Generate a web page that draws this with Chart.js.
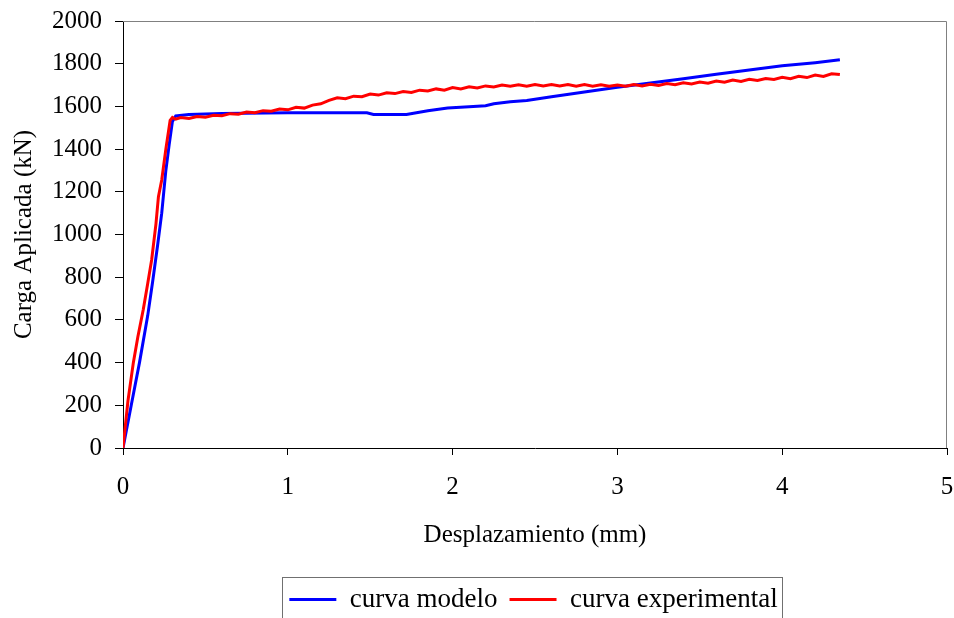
<!DOCTYPE html>
<html>
<head>
<meta charset="utf-8">
<script src="https://cdn.jsdelivr.net/npm/chart.js@4/dist/chart.umd.min.js"></script>
<style>
  body { margin: 0; background: #fff; }
  canvas { display: block; }
</style>
</head>
<body>
<canvas id="grafico" width="954" height="618"></canvas>
<script>
// curva modelo (azul)
const modeloX = [0, 0.05, 0.10, 0.15, 0.18, 0.21, 0.235, 0.26, 0.28, 0.30, 0.32, 0.40, 0.60, 1.00, 1.48, 1.52, 1.72, 1.85, 1.97, 2.10, 2.20, 2.25, 2.35, 2.45, 2.60, 2.80, 3.00, 3.20, 3.40, 3.60, 3.80, 4.00, 4.20, 4.35];
const modeloY = [0, 200, 400, 620, 780, 950, 1100, 1300, 1420, 1530, 1555, 1562, 1567, 1570, 1570, 1562, 1562, 1580, 1592, 1598, 1603, 1612, 1622, 1628, 1645, 1667, 1690, 1710, 1730, 1751, 1771, 1790, 1805, 1818];

// curva experimental (roja)
const experX = [0, 0.03, 0.063, 0.09, 0.123, 0.15, 0.174, 0.20, 0.215, 0.235, 0.26, 0.286, 0.30, 0.32,
  0.35, 0.40, 0.45, 0.50, 0.55, 0.60, 0.65, 0.70, 0.75, 0.80, 0.85, 0.90, 0.95, 1.00, 1.05, 1.10, 1.15, 1.20,
  1.25, 1.30, 1.35, 1.40, 1.45, 1.50, 1.55, 1.60, 1.65, 1.70, 1.75, 1.80, 1.85, 1.90, 1.95, 2.00, 2.05, 2.10,
  2.15, 2.20, 2.25, 2.30, 2.35, 2.40, 2.45, 2.50, 2.55, 2.60, 2.65, 2.70, 2.75, 2.80, 2.85, 2.90, 2.95, 3.00,
  3.05, 3.10, 3.15, 3.20, 3.25, 3.30, 3.35, 3.40, 3.45, 3.50, 3.55, 3.60, 3.65, 3.70, 3.75, 3.80, 3.85, 3.90,
  3.95, 4.00, 4.05, 4.10, 4.15, 4.20, 4.25, 4.30, 4.35];
const experY = [0, 220, 401, 520, 649, 770, 882, 1050, 1177, 1255, 1400, 1535, 1548, 1540,
  1548, 1543, 1553, 1549, 1558, 1556, 1566, 1563, 1574, 1570, 1580, 1577, 1588, 1584, 1596, 1592, 1606, 1612,
  1628, 1640, 1636, 1648, 1645, 1658, 1653, 1664, 1660, 1670, 1665, 1676, 1672, 1682, 1676, 1688, 1682, 1692,
  1686, 1696, 1691, 1700, 1694, 1701, 1695, 1702, 1696, 1702, 1696, 1702, 1695, 1702, 1695, 1701, 1694, 1700,
  1694, 1702, 1696, 1704, 1698, 1707, 1702, 1711, 1705, 1714, 1709, 1719, 1713, 1723, 1717, 1727, 1721, 1731,
  1726, 1736, 1730, 1741, 1735, 1747, 1740, 1753, 1749];

const xTicks = [0, 1, 2, 3, 4, 5];
const yTicks = [0, 200, 400, 600, 800, 1000, 1200, 1400, 1600, 1800, 2000];

const serif = 'Liberation Serif, Times New Roman, serif';

function puntos(xs, ys) {
  return xs.map((x, i) => ({ x: x, y: ys[i] }));
}

// marco gris arriba y a la derecha del area de trazado
const marco = {
  id: 'marco',
  beforeDatasetsDraw(chart) {
    const a = chart.chartArea;
    const ctx = chart.ctx;
    ctx.save();
    ctx.strokeStyle = '#808080';
    ctx.lineWidth = 1;
    ctx.beginPath();
    ctx.moveTo(a.left, a.top + 0.5);
    ctx.lineTo(a.right - 0.5, a.top + 0.5);
    ctx.lineTo(a.right - 0.5, a.bottom);
    ctx.stroke();
    ctx.restore();
  }
};

// leyenda desplazada y con recuadro
const cajaLeyenda = {
  id: 'cajaLeyenda',
  afterLayout(chart) {
    chart.legend.left += 60;
    chart.legend.right += 60;
  },
  afterDraw(chart) {
    const hb = chart.legend.legendHitBoxes;
    if (!hb || !hb.length) return;
    const first = hb[0];
    const last = hb[hb.length - 1];
    const ctx = chart.ctx;
    ctx.save();
    ctx.strokeStyle = '#707070';
    ctx.lineWidth = 1;
    const left = Math.round(first.left - 7) + 0.5;
    const top = Math.round(first.top + first.height / 2 - 23) + 0.5;
    const right = Math.round(last.left + last.width + 4) + 0.5;
    ctx.strokeRect(left, top, right - left, 80);
    ctx.restore();
  }
};

const ctx = document.getElementById('grafico').getContext('2d');
const grafico = new Chart(ctx, {
  type: 'scatter',
  data: {
    datasets: [{
      label: 'curva modelo',
      data: puntos(modeloX, modeloY),
      showLine: true,
      borderColor: '#0000ff',
      backgroundColor: '#0000ff',
      borderWidth: 3,
      pointRadius: 0,
      tension: 0,
      order: 1
    }, {
      label: 'curva experimental',
      data: puntos(experX, experY),
      showLine: true,
      borderColor: '#ff0000',
      backgroundColor: '#ff0000',
      borderWidth: 3,
      pointRadius: 0,
      tension: 0,
      order: 0
    }]
  },
  options: {
    responsive: false,
    animation: false,
    devicePixelRatio: 1,
    layout: { padding: { left: 0, right: 7, top: 21, bottom: -5 } },
    plugins: {
      tooltip: { enabled: false },
      legend: {
        position: 'bottom',
        labels: {
          color: '#000',
          font: { family: serif, size: 27 },
          usePointStyle: true,
          pointStyle: 'line',
          pointStyleWidth: 47,
          boxWidth: 47,
          padding: 12,
          sort: (a, b) => a.datasetIndex - b.datasetIndex
        }
      }
    },
    scales: {
      x: {
        type: 'linear',
        min: 0,
        max: 5,
        afterBuildTicks: (s) => { s.ticks = xTicks.map(v => ({ value: v })); },
        afterFit: (s) => { s.height = 126; s.paddingLeft = 0; s.paddingRight = 0; },
        ticks: { color: '#000', font: { family: serif, size: 25 }, padding: 17, callback: (v) => String(v) },
        grid: { display: true, drawOnChartArea: false, drawTicks: true, tickLength: 7, color: '#000' },
        border: { display: true, color: '#000', width: 1 },
        title: {
          display: true,
          text: 'Desplazamiento (mm)',
          color: '#000',
          font: { family: serif, size: 25 },
          padding: { top: 0, bottom: 24 }
        }
      },
      y: {
        type: 'linear',
        min: 0,
        max: 2000,
        afterBuildTicks: (s) => { s.ticks = yTicks.map(v => ({ value: v })); },
        afterFit: (s) => { s.width = 123; s.paddingTop = 0; s.paddingBottom = 0; },
        ticks: { color: '#000', font: { family: serif, size: 25 }, padding: 13, callback: (v) => String(v) },
        grid: { display: true, drawOnChartArea: false, drawTicks: true, tickLength: 8, color: '#000' },
        border: { display: true, color: '#000', width: 1 },
        title: {
          display: true,
          text: 'Carga Aplicada (kN)',
          color: '#000',
          font: { family: serif, size: 25 },
          padding: { top: 9, bottom: 0 }
        }
      }
    }
  },
  plugins: [marco, cajaLeyenda]
});
</script>
</body>
</html>
